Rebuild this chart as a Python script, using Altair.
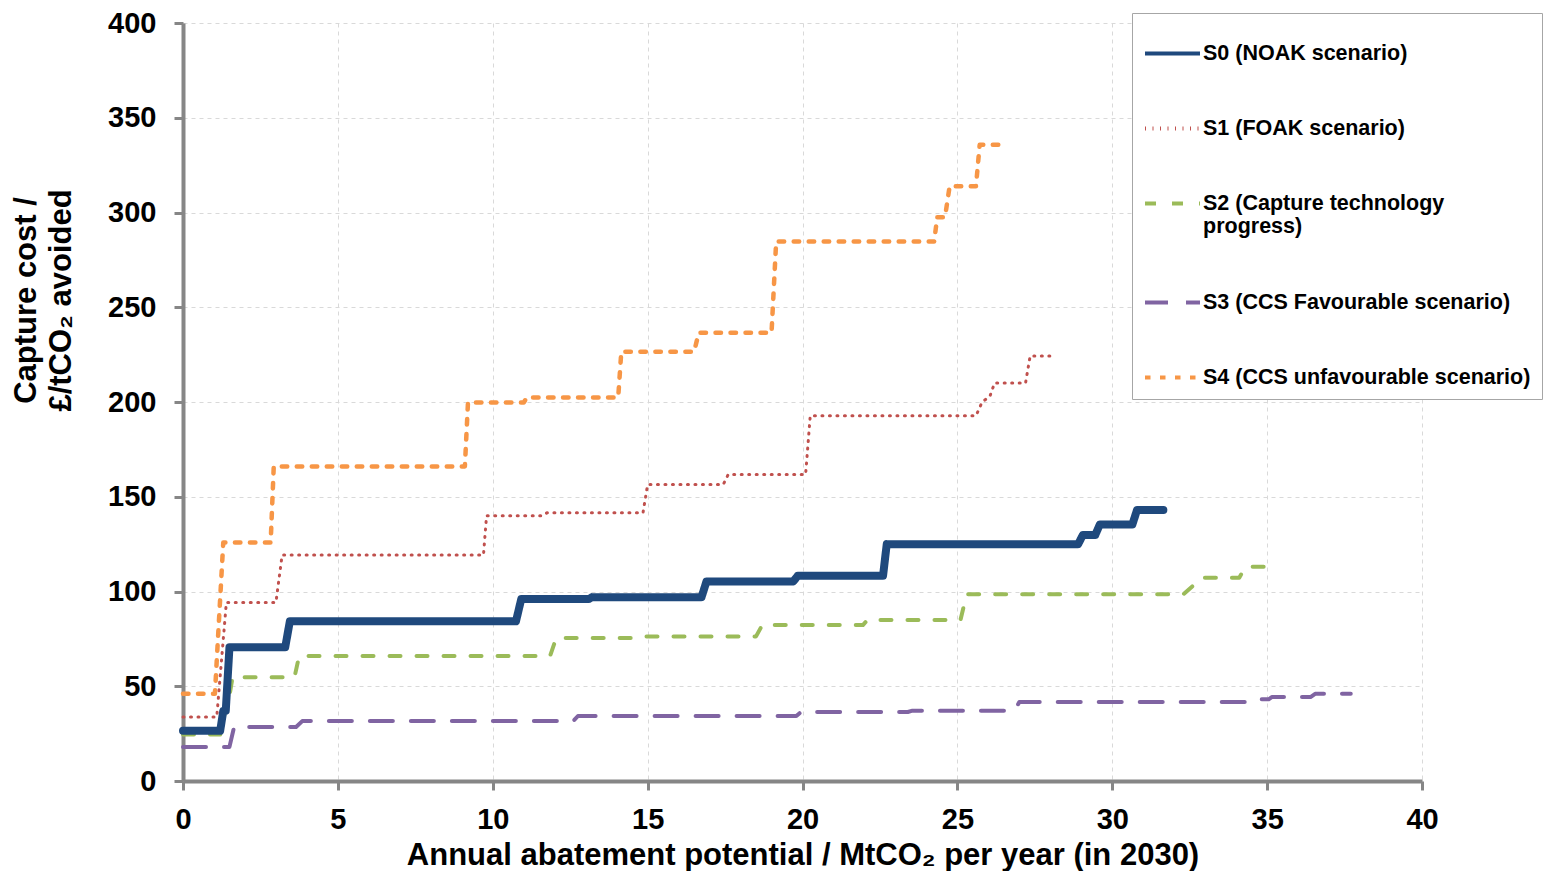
import altair as alt
import pandas as pd

names = [
    "S0 (NOAK scenario)",
    "S1 (FOAK scenario)",
    "S2 (Capture technology progress)",
    "S3 (CCS Favourable scenario)",
    "S4 (CCS unfavourable scenario)",
]
colors = ["#1f497d", "#c0504d", "#9bbb59", "#8064a2", "#f79646"]
widths = [8, 3, 4, 4, 4.5]
dashes = [[1, 0], [1, 6.5], [11, 16], [23, 18], [5.5, 9.5]]

s0_x = [0, 1.2, 1.3, 1.38, 1.5, 3.3, 3.45, 10.75, 10.92, 13.1, 13.2, 16.74, 16.9, 19.7, 19.85,
        22.6, 22.72, 28.9, 29.05, 29.45, 29.6, 30.65, 30.8, 31.65]
s0_y = [26.5, 26.5, 37, 37, 70.6, 70.6, 84.3, 84.3, 96, 96, 97, 97, 105.3, 105.3, 108.3,
        108.3, 125, 125, 129.8, 129.8, 135.4, 135.4, 143, 143]

s1_x = [0, 1.09, 1.4, 3.0, 3.2, 9.7, 9.8, 11.6, 11.75, 14.85, 15.0, 17.44, 17.6, 20.1, 20.25,
        25.6, 25.8, 26.05, 26.2, 27.2, 27.35, 28.1]
s1_y = [33.8, 33.8, 94.2, 94.2, 119.2, 119.2, 140, 140, 141.5, 141.5, 156.4, 156.4, 161.7, 161.7, 192.7,
        192.7, 200, 203, 210, 210, 224.3, 224.3]

s2_x = [0, 1.2, 1.35, 1.5, 1.6, 3.6, 3.75, 11.85, 12.05, 14.5, 14.7, 18.5, 18.7, 21.95, 22.1,
        25.1, 25.3, 32.3, 32.9, 34.1, 34.3, 35.25]
s2_y = [24.5, 24.5, 36, 45, 54.8, 54.8, 66, 66, 75.5, 75.5, 76.3, 76.3, 82.3, 82.3, 85,
        85, 98.6, 98.6, 107.3, 107.3, 113, 113]

s3_x = [0, 1.5, 1.65, 3.65, 3.85, 12.6, 12.75, 19.8, 19.95, 23.4, 23.55, 26.85, 27.0, 34.5, 34.6,
        35.05, 35.15, 36.4, 36.55, 37.7]
s3_y = [18, 18, 28.5, 28.5, 31.6, 31.6, 34.3, 34.3, 36.4, 36.4, 37.1, 37.1, 41.7, 41.7, 43.1,
        43.1, 44.3, 44.3, 46, 46]

s4_x = [0, 1.03, 1.3, 2.83, 2.93, 9.1, 9.2, 11.0, 11.1, 14.05, 14.15, 16.5, 16.65, 19.0, 19.15,
        24.25, 24.35, 24.6, 24.75, 25.6, 25.72, 26.55]
s4_y = [46, 46, 125.8, 125.8, 166, 166, 199.7, 199.7, 202.4, 202.4, 226.5, 226.5, 236.5, 236.5, 284.7,
        284.7, 297.5, 297.5, 313.8, 313.8, 335.7, 335.7]

# drawing order: S0 last so it sits on top
series = [
    (1, s1_x, s1_y),
    (2, s2_x, s2_y),
    (3, s3_x, s3_y),
    (4, s4_x, s4_y),
    (0, s0_x, s0_y),
]

rows = []
for k, xs, ys in series:
    for i, (xv, yv) in enumerate(zip(xs, ys)):
        rows.append({"series": names[k], "x": xv, "y": yv, "order": i, "w": widths[k]})
df = pd.DataFrame(rows)

FONT = "Liberation Sans"

legend = alt.Legend(
    title=None,
    orient="none",
    legendX=949,
    legendY=-10,
    padding=11,
    strokeColor="#a6a6a6",
    fillColor="white",
    cornerRadius=0,
    labelFont=FONT,
    labelFontSize=21.5,
    labelFontWeight="bold",
    labelColor="black",
    labelLimit=420,
    labelOffset=1,
    symbolOffset=0,
    symbolSize=3025,
    symbolType="stroke",
    symbolStrokeWidth=4,
    rowPadding=35,
    labelExpr="datum.label == 'S2 (Capture technology progress)' ? ['S2 (Capture technology', 'progress)'] : datum.label",
)

chart = alt.Chart(df).mark_line(strokeCap="round", strokeJoin="round").encode(
    x=alt.X(
        "x:Q",
        scale=alt.Scale(domain=[0, 40], nice=False),
        axis=alt.Axis(
            values=list(range(0, 41, 5)),
            title="Annual abatement potential / MtCO₂ per year (in 2030)",
            titleFont=FONT, titleFontSize=31, titleFontWeight="bold", titleColor="black",
            titleY=83, titleBaseline="alphabetic",
            labelFont=FONT, labelFontSize=29, labelFontWeight="bold", labelColor="black",
            labelPadding=15, labelFlush=False,
            domainColor="#868686", domainWidth=4,
            tickColor="#868686", tickWidth=3, tickSize=9,
            grid=True, gridColor="#d9d9d9", gridDash=[4, 4], gridWidth=1,
        ),
    ),
    y=alt.Y(
        "y:Q",
        scale=alt.Scale(domain=[0, 400], nice=False),
        axis=alt.Axis(
            values=list(range(0, 401, 50)),
            title=["Capture cost /", "£/tCO₂ avoided"],
            titleFont=FONT, titleFontSize=31, titleFontWeight="bold", titleColor="black",
            titleAngle=-90, titleX=-157, titleY=277, titleAlign="center", titleBaseline="middle",
            titleLineHeight=35,
            labelFont=FONT, labelFontSize=29, labelFontWeight="bold", labelColor="black",
            labelPadding=18, labelFlush=False,
            domainColor="#868686", domainWidth=4,
            tickColor="#868686", tickWidth=3, tickSize=9,
            grid=True, gridColor="#d9d9d9", gridDash=[4, 4], gridWidth=1,
        ),
    ),
    color=alt.Color("series:N", scale=alt.Scale(domain=names, range=colors), legend=legend),
    strokeDash=alt.StrokeDash(
        "series:N",
        scale=alt.Scale(domain=names, range=dashes),
        legend=legend,
    ),
    strokeWidth=alt.StrokeWidth("w:Q", scale=None, legend=None),
    order="order:Q",
    detail="series:N",
).properties(
    width=1239,
    height=758,
    autosize=alt.AutoSizeParams(type="none"),
    padding={"left": 175, "top": 15, "right": 121, "bottom": 90},
    background="white",
).configure_view(stroke=None)

chart.save("out.html", embed_options={"renderer": "svg", "actions": False})
